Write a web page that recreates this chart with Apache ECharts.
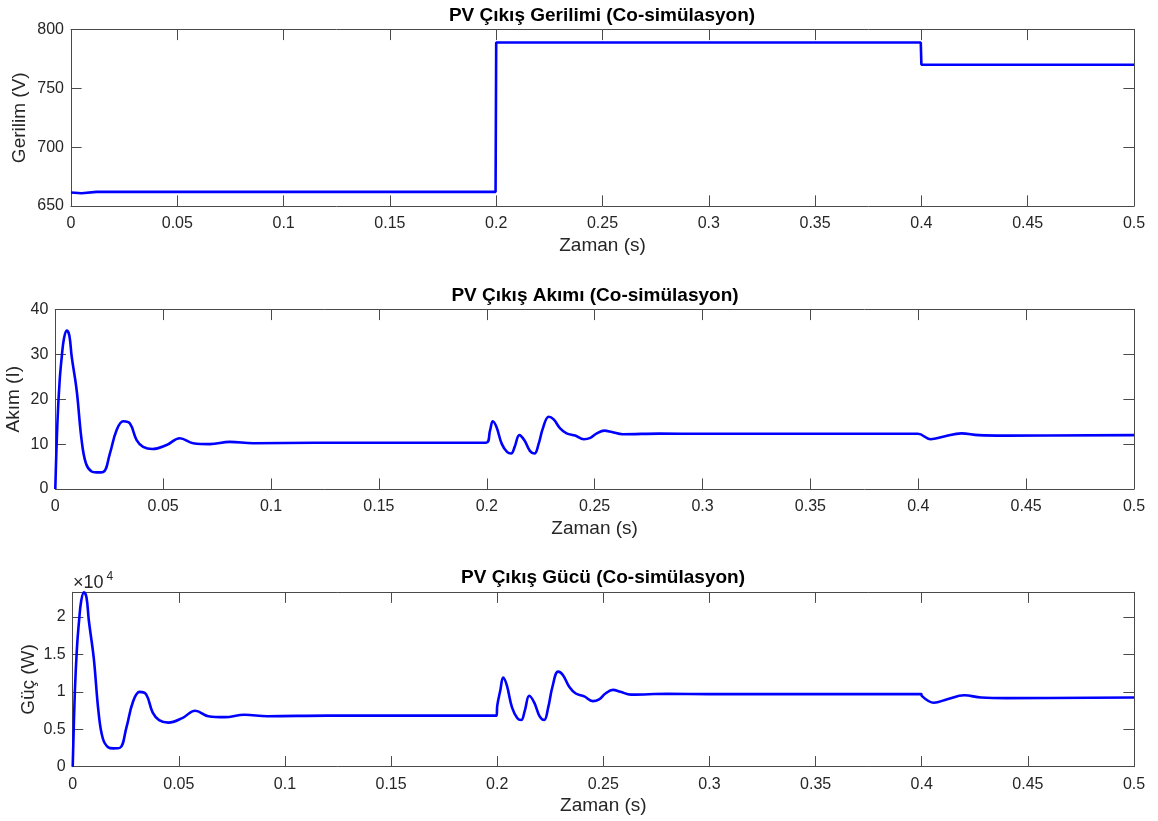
<!DOCTYPE html>
<html>
<head>
<meta charset="utf-8">
<script src="https://cdn.jsdelivr.net/npm/echarts@6/dist/echarts.min.js"></script>
<style>html,body{margin:0;padding:0;background:#fff}#c{width:1158px;height:821px}</style>
</head>
<body>
<div id="c"></div>
<script>
// ---- Data ----
const xTicks = [0, 0.05, 0.1, 0.15, 0.2, 0.25, 0.3, 0.35, 0.4, 0.45, 0.5];

// PV voltage (V)
const tVolt = [0, 0.005, 0.012, 0.1997, 0.2, 0.3997, 0.4, 0.5];
const volt  = [661.5, 660.9, 662, 662, 789, 789, 770, 770];

// PV current (A)
const tCurr = [0, 0.001, 0.002, 0.003, 0.004, 0.0053, 0.0065, 0.0076, 0.0099, 0.0122, 0.0142, 0.0168, 0.019, 0.0222,
  0.0253, 0.0284, 0.0315, 0.0346, 0.0377, 0.0407, 0.045, 0.0516, 0.0577, 0.0639, 0.0716, 0.0809, 0.0917, 0.12, 0.16, 0.1997,
  0.2015, 0.2028, 0.2045, 0.207, 0.2095, 0.2113, 0.213, 0.2151, 0.2175, 0.22, 0.2221, 0.224, 0.226, 0.2287, 0.231, 0.234,
  0.237, 0.241, 0.245, 0.248, 0.251, 0.2545, 0.258, 0.263, 0.28, 0.3, 0.35, 0.3998, 0.4057, 0.412, 0.42, 0.428, 0.44, 0.5];
const curr  = [0, 15, 24, 29.5, 33.5, 35.3, 34.2, 29.5, 22, 10.9, 5.7, 3.9, 3.7, 3.8,
  7.9, 13.1, 15.1, 14.6, 10.9, 9.4, 8.9, 9.8, 11.3, 10.2, 10.0, 10.5, 10.2, 10.3, 10.3, 10.3,
  13, 15.1, 13.8, 10, 8.2, 7.9, 9.5, 12.0, 10.8, 8.5, 7.9, 10, 13.5, 16.1, 15.5, 13.5,
  12.4, 11.9, 11.1, 11.4, 12.4, 13.0, 12.7, 12.2, 12.35, 12.3, 12.3, 12.3, 11.1, 11.7, 12.4, 12.0, 11.9, 12.0];

// PV power (W)
const tPow = [0, 0.001, 0.002, 0.003, 0.004, 0.0053, 0.0065, 0.0076, 0.0099, 0.0122, 0.0142, 0.0168, 0.019, 0.0222,
  0.0253, 0.0284, 0.0315, 0.0346, 0.0377, 0.0407, 0.045, 0.0516, 0.0577, 0.0639, 0.0716, 0.0809, 0.0917, 0.12, 0.16, 0.1997,
  0.2, 0.2015, 0.2028, 0.2045, 0.207, 0.2095, 0.2113, 0.213, 0.2151, 0.2175, 0.22, 0.2221, 0.224, 0.226, 0.2287, 0.231, 0.234,
  0.237, 0.241, 0.245, 0.248, 0.251, 0.2545, 0.258, 0.263, 0.28, 0.3, 0.35, 0.3998, 0.4, 0.4057, 0.412, 0.42, 0.428, 0.44, 0.5];
const pow  = [0, 9915, 15860, 19500, 22140, 23300, 22600, 19530, 14560, 7215, 3770, 2580, 2450, 2515,
  5230, 8670, 10000, 9665, 7215, 6220, 5890, 6490, 7480, 6750, 6620, 6950, 6750, 6820, 6820, 6820,
  8130, 10260, 11910, 10890, 7890, 6470, 6230, 7500, 9470, 8520, 6710, 6230, 7890, 10650, 12700, 12230, 10650,
  9780, 9390, 8760, 8990, 9780, 10260, 10020, 9630, 9740, 9700, 9700, 9700, 9470, 8550, 9010, 9550, 9240, 9160, 9240];

const yVoltTicks = [650, 700, 750, 800];
const yCurrTicks = [0, 10, 20, 30, 40];
const yPowTicks  = [0, 5000, 10000, 15000, 20000];
const powMax = 23300;

// ---- Styling ----
const FONT = "'Liberation Sans', Arial, Helvetica, sans-serif";
const AX = '#4a4a4a', TXT = '#262626';
const grids = [
  {left: 71, right: 24, top: 29.5, height: 176.5},
  {left: 55.3, right: 24, top: 309.5, height: 179.5},
  {left: 72.7, right: 24, top: 592.3, height: 174.4}
];
const fmtX = v => String(parseFloat(v.toFixed(3)));

function xAxes(gi) {
  const base = {gridIndex: gi, type: 'value', min: xTicks[0], max: xTicks[xTicks.length-1], interval: 0.05,
    axisLine: {onZero: false, lineStyle: {color: AX, width: 1}}, splitLine: {show: false},
    axisTick: {inside: true, length: 10.6, lineStyle: {color: AX}}};
  return [
    Object.assign({}, base, {position: 'bottom', name: 'Zaman (s)', nameLocation: 'middle', nameGap: 30,
      nameTextStyle: {fontFamily: FONT, fontSize: 19, color: TXT},
      axisLabel: {fontFamily: FONT, fontSize: 16, color: TXT, margin: 10, formatter: fmtX}}),
    Object.assign({}, base, {position: 'top', axisLabel: {show: false}})
  ];
}
function yAxes(gi, min, max, interval, name, gap, fmt) {
  const base = {gridIndex: gi, type: 'value', min: min, max: max, interval: interval,
    axisLine: {show: true, onZero: false, lineStyle: {color: AX, width: 1}}, splitLine: {show: false},
    axisTick: {show: true, inside: true, length: 10.6, lineStyle: {color: AX}}};
  return [
    Object.assign({}, base, {position: 'left', name: name, nameLocation: 'middle', nameGap: gap, nameRotate: 90,
      nameMoveOverlap: false,
      nameTextStyle: {fontFamily: FONT, fontSize: 19, color: TXT},
      axisLabel: {fontFamily: FONT, fontSize: 16, color: TXT, margin: 7, formatter: fmt, showMaxLabel: max % interval === 0}}),
    Object.assign({}, base, {position: 'right', axisLabel: {show: false}})
  ];
}

const xAxis = [].concat(xAxes(0), xAxes(1), xAxes(2));
const yAxis = [].concat(
  yAxes(0, yVoltTicks[0], yVoltTicks[yVoltTicks.length-1], 50, 'Gerilim (V)', 42, v => String(v)),
  yAxes(1, yCurrTicks[0], yCurrTicks[yCurrTicks.length-1], 10, 'Akım (I)', 32, v => String(v)),
  yAxes(2, yPowTicks[0], powMax, 5000, 'Güç (W)', 34, v => (v % 5000 === 0 ? String(v / 10000) : ''))
);

const lineS = (xi, yi, ts, vs, smooth) => ({
  type: 'line', xAxisIndex: xi, yAxisIndex: yi, data: ts.map((t, i) => [t, vs[i]]),
  showSymbol: false, symbol: 'none', smooth: smooth, clip: true,
  lineStyle: {color: '#0000ff', width: 2.6}, itemStyle: {color: '#0000ff'}, animation: false
});

const titleStyle = {fontFamily: FONT, fontSize: 19, fontWeight: 'bold', fill: '#000', align: 'center', verticalAlign: 'middle'};
const option = {
  animation: false,
  grid: grids.map(g => Object.assign({containLabel: false, outerBoundsMode: 'none'}, g)),
  xAxis: xAxis,
  yAxis: yAxis,
  series: [
    lineS(0, 0, tVolt, volt, false),
    lineS(2, 2, tCurr, curr, 0.4),
    lineS(4, 4, tPow, pow, 0.4)
  ],
  graphic: [
    {type: 'text', x: 602, y: 16, style: Object.assign({text: 'PV Çıkış Gerilimi (Co-simülasyon)'}, titleStyle)},
    {type: 'text', x: 595, y: 296, style: Object.assign({text: 'PV Çıkış Akımı (Co-simülasyon)'}, titleStyle)},
    {type: 'text', x: 603, y: 578, style: Object.assign({text: 'PV Çıkış Gücü (Co-simülasyon)'}, titleStyle)},
    {type: 'text', x: 73, y: 583, style: {text: '×10', fontFamily: FONT, fontSize: 18, fill: TXT, align: 'left', verticalAlign: 'middle'}},
    {type: 'text', x: 106.5, y: 577, style: {text: '4', fontFamily: FONT, fontSize: 12, fill: TXT, align: 'left', verticalAlign: 'middle'}}
  ]
};
const chart = echarts.init(document.getElementById('c'), null, {renderer: 'canvas'});
chart.setOption(option);
</script>
</body>
</html>
